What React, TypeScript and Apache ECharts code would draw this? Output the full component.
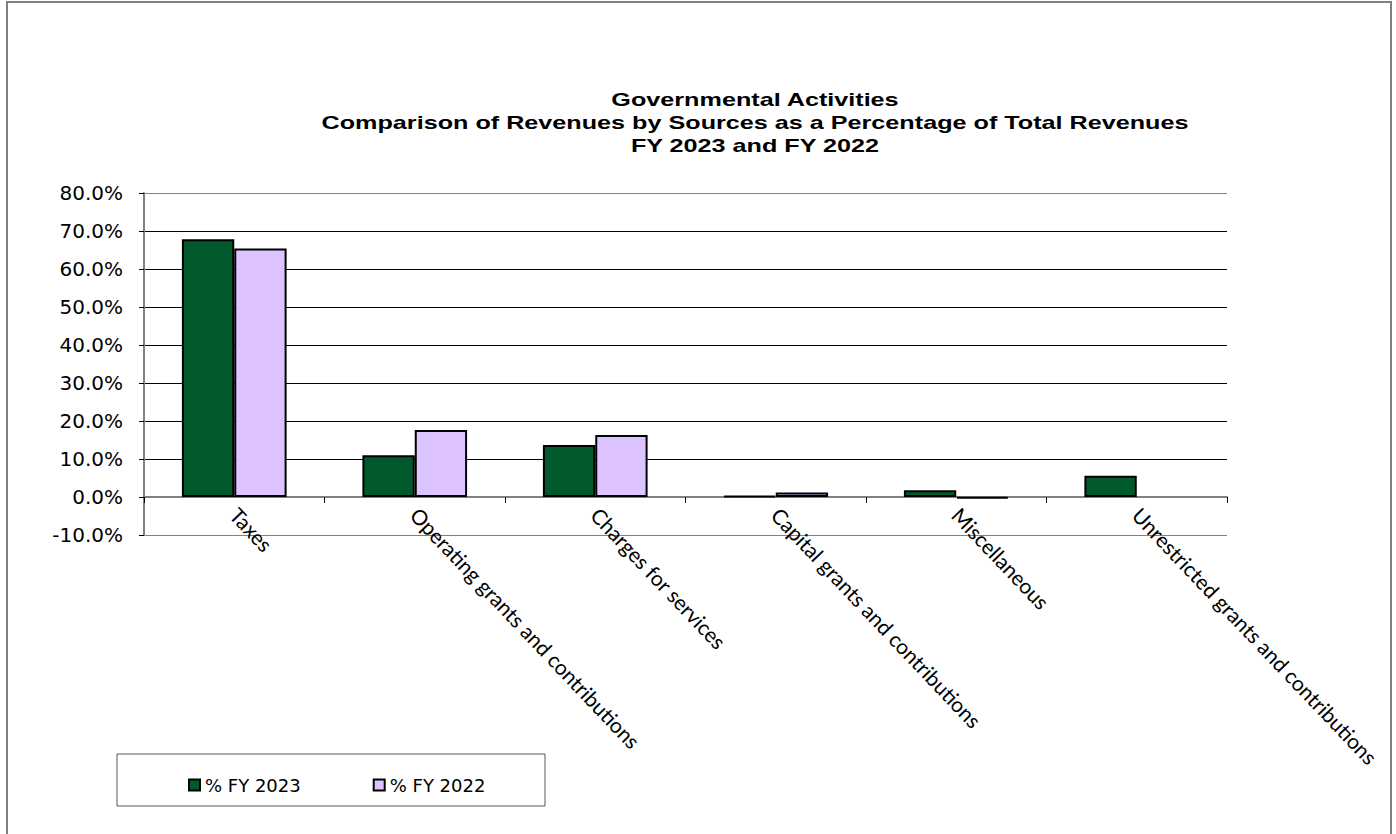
import React, { useEffect, useRef } from "react";
import * as echarts from "echarts";

const categories = [
  "Taxes",
  "Operating grants and contributions",
  "Charges for services",
  "Capital grants and contributions",
  "Miscellaneous",
  "Unrestricted grants and contributions",
];
const fy2023 = [67.8, 11.0, 13.7, 0.3, 1.8, 5.6];
const fy2022: (number | null)[] = [65.4, 17.6, 16.3, 1.2, -0.4, null];
const seriesNames = ["% FY 2023", "% FY 2022"];
const titleLines = [
  "Governmental Activities",
  "Comparison of Revenues by Sources as a Percentage of Total Revenues",
  "FY 2023 and FY 2022",
];
const yMin = -10;
const yMax = 80;
const yStep = 10;

export default function App() {
  const ref = useRef<HTMLDivElement>(null);
  useEffect(() => {
    if (!ref.current) return;
    const chart = echarts.init(ref.current, null, { renderer: "svg" });
    const splitColors: string[] = [];
    for (let v = yMin; v <= yMax; v += yStep) {
      splitColors.push(v === yMin || v === yMax ? "#808080" : "#000000");
    }
    chart.setOption({
      animation: false,
      backgroundColor: "#ffffff",
      grid: { left: 144, right: 169, top: 193, bottom: 299, containLabel: false },
      legend: {
        left: 183,
        top: 771,
        itemWidth: 11,
        itemHeight: 11,
        itemGap: 72,
        icon: "rect",
        textStyle: { fontFamily: "DejaVu Sans", fontSize: 18, color: "#000" },
        data: seriesNames,
      },
      xAxis: {
        type: "category",
        data: categories,
        axisLine: { onZero: true, lineStyle: { color: "#808080", width: 2 } },
        axisTick: { show: true, length: 6, interval: 0, lineStyle: { color: "#000", width: 1 } },
        axisLabel: {
          interval: 0,
          rotate: -46.5,
          margin: -24,
          fontFamily: "Lato",
          fontSize: 21,
          color: "#000",
        },
        splitLine: { show: false },
      },
      yAxis: {
        type: "value",
        min: yMin,
        max: yMax,
        interval: yStep,
        axisLine: { show: true, lineStyle: { color: "#808080", width: 2 } },
        axisTick: { show: true, length: 5, lineStyle: { color: "#000", width: 1 } },
        axisLabel: {
          margin: 21,
          fontFamily: "DejaVu Sans",
          fontSize: 20,
          color: "#000",
          formatter: (v: number) => v.toFixed(1) + "%",
        },
        splitLine: { show: true, lineStyle: { color: splitColors, width: 1 } },
      },
      series: [
        {
          name: seriesNames[0],
          type: "bar",
          data: fy2023,
          barGap: "0%",
          barCategoryGap: "42%",
          itemStyle: { color: "#005A2B", borderColor: "#000", borderWidth: 2 },
        },
        {
          name: seriesNames[1],
          type: "bar",
          data: fy2022,
          barGap: "0%",
          barCategoryGap: "42%",
          itemStyle: { color: "#DDC3FF", borderColor: "#000", borderWidth: 2 },
        },
      ],
      graphic: [
        {
          type: "rect",
          shape: { x: 7, y: 2, width: 1384, height: 850 },
          style: { fill: "none", stroke: "#7f7f7f", lineWidth: 2 },
          silent: true,
          z: -1,
        },
        {
          type: "rect",
          shape: { x: 117, y: 754, width: 428, height: 52 },
          style: { fill: "none", stroke: "#595959", lineWidth: 1 },
          silent: true,
        },
        ...titleLines.map((t, i) => ({
          type: "text",
          x: 755,
          y: 100 + i * 23,
          scaleX: 1.4,
          style: {
            text: t,
            align: "center",
            verticalAlign: "middle",
            font: 'bold 18px "Liberation Sans", Arial, sans-serif',
            fill: "#000",
          },
        })),
      ],
    });
    return () => chart.dispose();
  }, []);
  return (
    <div
      ref={ref}
      style={{ position: "absolute", left: 0, top: 0, width: 1396, height: 834 }}
    />
  );
}
